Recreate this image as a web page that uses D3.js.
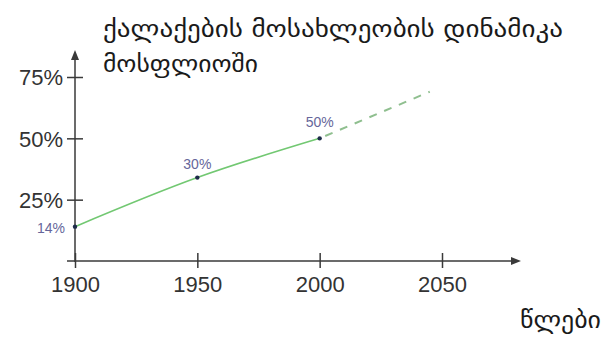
<!DOCTYPE html>
<html><head><meta charset="utf-8">
<script src="https://cdn.jsdelivr.net/npm/d3@7"></script>
<style>body{margin:0;background:#fff}svg{display:block}</style>
</head><body>
<svg id="c" width="607" height="340"></svg>
<script>
const titleLines = ["ქალაქების მოსახლეობის დინამიკა", "მოსფლიოში"];
const xLabel = "წლები";
const years = [1900, 1950, 2000];
const shares = [14, 34, 50];
const pointLabels = ["14%", "30%", "50%"];
const projYears = [2000, 2045];
const projShares = [50, 69];
const xTicks = [1900, 1950, 2000, 2050];
const yTicks = [25, 50, 75];

const svg = d3.select("#c");
const x = d3.scaleLinear().domain([1900, 2050]).range([75, 442]);
const y = d3.scaleLinear().domain([0, 75]).range([261, 77]);

const axisCol = "#3a3a3a";
const tickFont = "Liberation Sans, Arial, sans-serif";
// y axis
const yAxis = d3.axisLeft(y).tickValues(yTicks).tickSize(0).tickPadding(0).tickFormat(d => d + "%");
const gy = svg.append("g").attr("transform", "translate(75,0)").call(yAxis);
gy.select(".domain").remove();
gy.selectAll(".tick line").attr("x1", -8).attr("x2", 8).attr("stroke", axisCol).attr("stroke-width", 1.5);
gy.selectAll(".tick text").attr("x", -12).attr("dy", "0.36em").attr("font-family", tickFont).attr("font-size", 22).attr("fill", "#333");
svg.append("line").attr("x1", 75).attr("x2", 75).attr("y1", 262).attr("y2", 56).attr("stroke", axisCol).attr("stroke-width", 1.5);
svg.append("path").attr("d", "M75,50 L71,60 L79,60 Z").attr("fill", axisCol);

// x axis
const xAxis = d3.axisBottom(x).tickValues(xTicks).tickSize(0).tickPadding(0).tickFormat(d3.format("d"));
const gx = svg.append("g").attr("transform", "translate(0,261)").call(xAxis);
gx.select(".domain").remove();
gx.selectAll(".tick line").attr("y1", -8).attr("y2", 7).attr("stroke", axisCol).attr("stroke-width", 1.5);
gx.selectAll(".tick text").attr("y", 31).attr("dy", 0).attr("font-family", tickFont).attr("font-size", 22).attr("fill", "#333");
svg.append("line").attr("x1", 67).attr("x2", 514).attr("y1", 261).attr("y2", 261).attr("stroke", axisCol).attr("stroke-width", 1.5);
svg.append("path").attr("d", "M521,261 L511,257 L511,265 Z").attr("fill", axisCol);

// solid line
const pts = years.map((d, i) => [x(d), y(shares[i])]);
svg.append("path").attr("d", d3.line().curve(d3.curveMonotoneX)(pts))
  .attr("fill", "none").attr("stroke", "#72c872").attr("stroke-width", 1.6);
// dashed projection
const ppts = projYears.map((d, i) => [x(d), y(projShares[i])]);
svg.append("path").attr("d", d3.line()(ppts))
  .attr("fill", "none").attr("stroke", "#8fbf8f").attr("stroke-width", 2).attr("stroke-dasharray", "8,8").attr("stroke-dashoffset", -6);

// dots
svg.selectAll("circle.pt").data(pts).enter().append("circle")
  .attr("cx", d => d[0]).attr("cy", d => d[1]).attr("r", 2.2).attr("fill", "#1e2b4a");
// point labels
const lblOff = [[-10, 6], [0, -9], [0, -11]];
svg.selectAll("text.pl").data(pts).enter().append("text")
  .attr("x", (d, i) => d[0] + lblOff[i][0]).attr("y", (d, i) => d[1] + lblOff[i][1])
  .attr("text-anchor", (d, i) => i === 0 ? "end" : "middle")
  .attr("font-family", tickFont).attr("font-size", 14).attr("fill", "#66669a")
  .text((d, i) => pointLabels[i]);

// title
const titleW = [460, 155];
svg.selectAll("text.title").data(titleLines).enter().append("text")
  .attr("x", 103).attr("y", (d, i) => 37 + i * 35)
  .attr("font-family", "DejaVu Sans, sans-serif").attr("font-size", 24).attr("fill", "#1a1a1a")
  .attr("textLength", (d, i) => titleW[i]).attr("lengthAdjust", "spacingAndGlyphs")
  .text(d => d);
svg.append("text").attr("x", 520).attr("y", 328)
  .attr("font-family", "DejaVu Sans, sans-serif").attr("font-size", 23).attr("fill", "#1a1a1a")
  .attr("textLength", 81).attr("lengthAdjust", "spacingAndGlyphs").text(xLabel);
</script>
</body></html>
